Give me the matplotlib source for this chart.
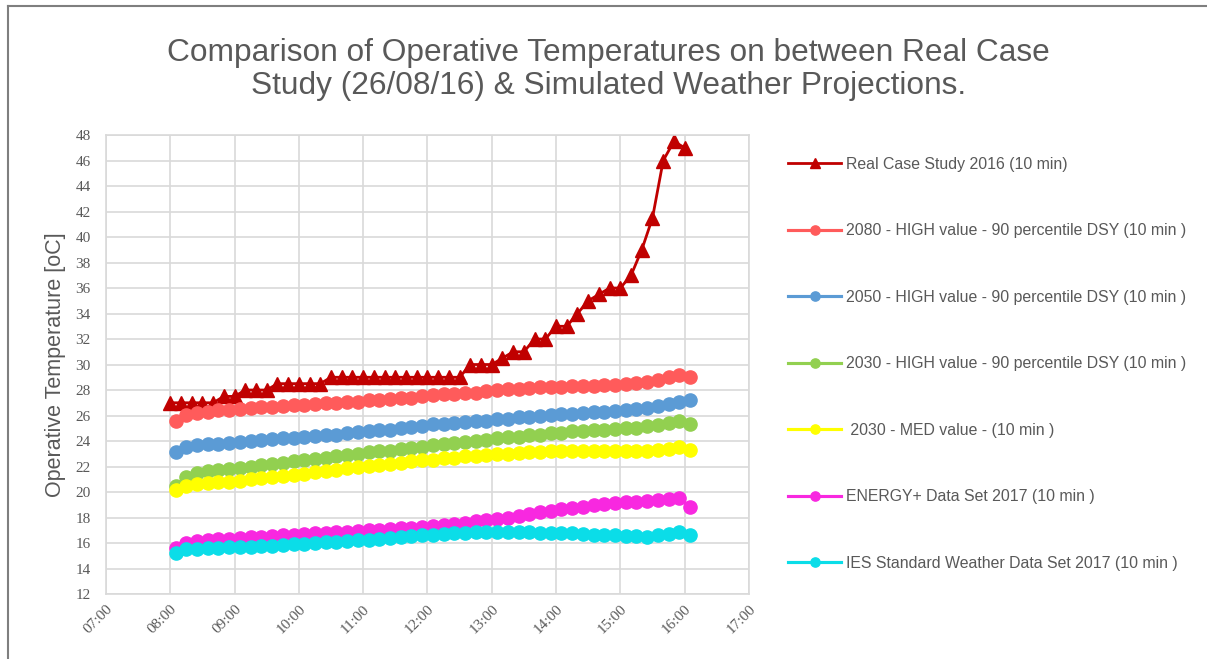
import numpy as np
import pandas as pd
import matplotlib
matplotlib.use("Agg")
import matplotlib.pyplot as plt
import matplotlib.dates as mdates
from matplotlib.lines import Line2D

# --------------------------------
# ### Data ###
# --------------------------------
RealTimes = pd.date_range("2016-08-26 08:00", periods=49, freq="10min")
SimTimes = pd.date_range("2016-08-26 08:05", periods=49, freq="10min")

RealCase = [27, 27, 27, 27, 27, 27.5, 27.5, 28, 28, 28,
            28.5, 28.5, 28.5, 28.5, 28.5, 29, 29, 29, 29, 29,
            29, 29, 29, 29, 29, 29, 29, 29, 30, 30,
            30, 30.5, 31, 31, 32, 32, 33, 33, 34, 35,
            35.5, 36, 36, 37, 39, 41.5, 46, 47.5, 47]

High2080 = [25.6, 26.05, 26.2, 26.3, 26.4, 26.45, 26.5, 26.6, 26.65, 26.7,
            26.75, 26.8, 26.85, 26.9, 26.95, 27.0, 27.05, 27.1, 27.2, 27.25,
            27.3, 27.35, 27.4, 27.5, 27.6, 27.65, 27.7, 27.75, 27.8, 27.9,
            28.0, 28.05, 28.1, 28.15, 28.2, 28.25, 28.25, 28.3, 28.35, 28.35,
            28.4, 28.4, 28.45, 28.55, 28.65, 28.8, 29.0, 29.2, 29.05]

High2050 = [23.1, 23.55, 23.7, 23.75, 23.8, 23.85, 23.9, 24.0, 24.05, 24.15,
            24.2, 24.25, 24.3, 24.4, 24.45, 24.5, 24.6, 24.7, 24.8, 24.85,
            24.9, 25.0, 25.1, 25.2, 25.3, 25.35, 25.4, 25.5, 25.55, 25.6,
            25.7, 25.75, 25.85, 25.9, 26.0, 26.05, 26.1, 26.15, 26.2, 26.25,
            26.3, 26.35, 26.4, 26.5, 26.6, 26.75, 26.9, 27.1, 27.2]

High2030 = [20.5, 21.15, 21.5, 21.65, 21.75, 21.8, 21.9, 22.0, 22.1, 22.2,
            22.3, 22.4, 22.5, 22.6, 22.7, 22.8, 22.9, 23.0, 23.1, 23.2,
            23.25, 23.35, 23.45, 23.55, 23.65, 23.75, 23.85, 23.95, 24.0, 24.1,
            24.2, 24.3, 24.35, 24.45, 24.5, 24.6, 24.65, 24.75, 24.8, 24.85,
            24.9, 24.95, 25.0, 25.05, 25.15, 25.25, 25.4, 25.6, 25.3]

Med2030 = [20.15, 20.5, 20.65, 20.7, 20.75, 20.8, 20.9, 21.0, 21.1, 21.2,
           21.25, 21.35, 21.45, 21.55, 21.65, 21.75, 21.85, 21.95, 22.05, 22.1,
           22.2, 22.3, 22.4, 22.5, 22.55, 22.65, 22.7, 22.8, 22.85, 22.9,
           22.95, 23.0, 23.05, 23.1, 23.15, 23.2, 23.2, 23.2, 23.25, 23.25,
           23.2, 23.2, 23.2, 23.25, 23.25, 23.3, 23.35, 23.5, 23.3]

EnergyPlus = [15.6, 16.0, 16.15, 16.2, 16.3, 16.35, 16.4, 16.45, 16.5, 16.55,
              16.6, 16.65, 16.7, 16.75, 16.8, 16.85, 16.9, 16.95, 17.0, 17.05,
              17.1, 17.15, 17.2, 17.25, 17.35, 17.4, 17.5, 17.6, 17.7, 17.8,
              17.9, 18.0, 18.1, 18.25, 18.4, 18.5, 18.65, 18.75, 18.85, 18.95,
              19.05, 19.15, 19.2, 19.25, 19.3, 19.35, 19.45, 19.55, 18.8]

IESData = [15.2, 15.5, 15.55, 15.6, 15.6, 15.65, 15.65, 15.7, 15.75, 15.8,
           15.85, 15.9, 15.95, 16.0, 16.05, 16.1, 16.15, 16.2, 16.25, 16.3,
           16.4, 16.45, 16.55, 16.6, 16.65, 16.7, 16.75, 16.8, 16.85, 16.85,
           16.9, 16.9, 16.85, 16.85, 16.8, 16.8, 16.75, 16.75, 16.7, 16.65,
           16.6, 16.6, 16.55, 16.55, 16.5, 16.6, 16.7, 16.85, 16.6]

Labels = ["Real Case Study 2016 (10 min)",
          "2080 - HIGH value - 90 percentile DSY (10 min )",
          "2050 - HIGH value - 90 percentile DSY (10 min )",
          "2030 - HIGH value - 90 percentile DSY (10 min )",
          " 2030 - MED value - (10 min )",
          "ENERGY+ Data Set 2017 (10 min )",
          "IES Standard Weather Data Set 2017 (10 min )"]

Colors = ["#C00000", "#FF5B5B", "#5B9BD5", "#92D050", "#FFFF00", "#F828E0", "#0BDDE8"]

TextGrey = "#595959"
GridGrey = "#D9D9D9"

# --------------------------------
# ### Figure ###
# --------------------------------
plt.rcParams['font.family'] = ['Liberation Sans', 'DejaVu Sans']

fig = plt.figure(figsize=(12.07, 6.59), dpi=100)
ax = fig.add_axes([0.0878, 0.0986, 0.5327, 0.6965])

ax.plot(RealTimes, RealCase, color=Colors[0], marker="^", markersize=9.5,
        linewidth=2, label=Labels[0])

SimSeries = [High2080, High2050, High2030, Med2030, EnergyPlus, IESData]
for i, series in enumerate(SimSeries):
    ax.plot(SimTimes, series, color=Colors[i + 1], marker="o", markersize=9.5,
            linewidth=2.25, label=Labels[i + 1])

ax.set_ylim(12, 48)
ax.set_yticks(np.arange(12, 49, 2))
ax.set_xlim(pd.Timestamp("2016-08-26 07:00"), pd.Timestamp("2016-08-26 17:00"))
ax.xaxis.set_major_locator(mdates.HourLocator())
ax.xaxis.set_major_formatter(mdates.DateFormatter("%H:%M"))

ax.grid(True, color=GridGrey, linewidth=1.2)
ax.set_axisbelow(True)
for side in ax.spines.values():
    side.set_color(GridGrey)
    side.set_linewidth(1.2)

ax.tick_params(axis="y", length=0, pad=11, labelsize=11, labelcolor=TextGrey)
ax.tick_params(axis="x", length=0, pad=6, labelsize=11, labelcolor=TextGrey)
for lbl in ax.get_yticklabels() + ax.get_xticklabels():
    lbl.set_family(['Liberation Serif', 'DejaVu Serif'])
for lbl in ax.get_xticklabels():
    lbl.set_rotation(45)
    lbl.set_ha("right")
    lbl.set_va("top")
    lbl.set_rotation_mode("anchor")

ax.set_ylabel("Operative Temperature [oC]", fontsize=15.5, color=TextGrey, labelpad=7)

fig.text(0.504, 0.895, "Comparison of Operative Temperatures on between Real Case\n"
         "Study (26/08/16) & Simulated Weather Projections.",
         ha="center", va="center", fontsize=22.8, color=TextGrey, linespacing=1.12)

fig.legend(loc="upper left", bbox_to_anchor=(0.653, 0.762), frameon=False,
           fontsize=11.4, labelcolor=TextGrey, handlelength=3.35, handletextpad=0.32,
           labelspacing=3.25, borderpad=0, borderaxespad=0, markerscale=0.7)

# outer chart frame (left and top edge visible)
fig.add_artist(Line2D([8 / 1207, 8 / 1207], [0, 1 - 6 / 659], color="#7F7F7F",
                      linewidth=1.5, transform=fig.transFigure))
fig.add_artist(Line2D([8 / 1207, 1], [1 - 6 / 659, 1 - 6 / 659], color="#7F7F7F",
                      linewidth=1.5, transform=fig.transFigure))

fig.savefig("out.png", dpi=100)
